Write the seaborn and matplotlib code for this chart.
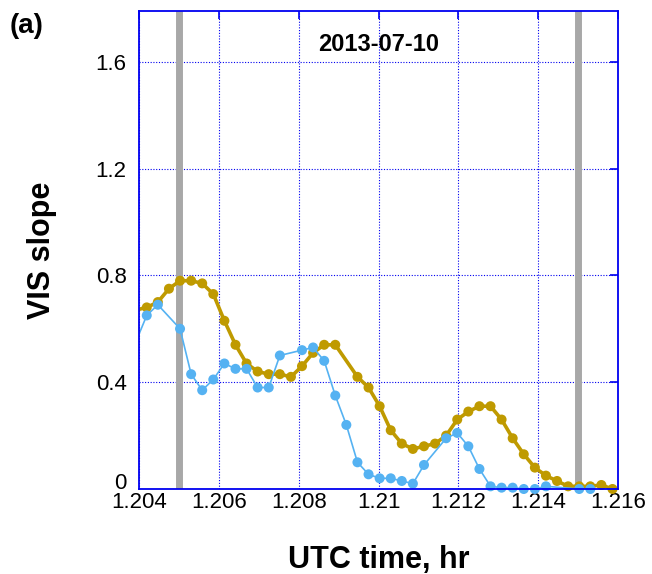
import matplotlib
matplotlib.use("Agg")
import matplotlib.pyplot as plt
import matplotlib.transforms as mtransforms
import seaborn as sns
import pandas as pd

# ---- data (UTC time in hr, VIS slope) ----
gold_time = [1.203917, 1.204194, 1.204472, 1.204750, 1.205028, 1.205306, 1.205583,
             1.205861, 1.206139, 1.206417, 1.206694, 1.206972, 1.207250, 1.207528,
             1.207806, 1.208083, 1.208361, 1.208639, 1.208917, 1.209472, 1.209750,
             1.210028, 1.210306, 1.210583, 1.210861, 1.211139, 1.211417, 1.211694,
             1.211972, 1.212250, 1.212528, 1.212806, 1.213083, 1.213361, 1.213639,
             1.213917, 1.214194, 1.214472, 1.214750, 1.215028, 1.215306, 1.215583,
             1.215861]
gold_slope = [0.67, 0.68, 0.70, 0.75, 0.78, 0.78, 0.77,
              0.73, 0.63, 0.54, 0.47, 0.44, 0.43, 0.43,
              0.42, 0.46, 0.51, 0.54, 0.54, 0.42, 0.38,
              0.31, 0.22, 0.17, 0.15, 0.16, 0.17, 0.20,
              0.26, 0.29, 0.31, 0.31, 0.26, 0.19, 0.13,
              0.08, 0.05, 0.03, 0.01, 0.01, 0.01, 0.015,
              0.0]

blue_time = [1.203917, 1.204194, 1.204472, 1.205028, 1.205306, 1.205583, 1.205861,
             1.206139, 1.206417, 1.206694, 1.206972, 1.207250, 1.207528, 1.208083,
             1.208361, 1.208639, 1.208917, 1.209194, 1.209472, 1.209750, 1.210028,
             1.210306, 1.210583, 1.210861, 1.211139, 1.211694, 1.211972, 1.212250,
             1.212528, 1.212806, 1.213083, 1.213361, 1.213639, 1.213917, 1.214194,
             1.215028, 1.215306]
blue_slope = [0.55, 0.65, 0.69, 0.60, 0.43, 0.37, 0.41,
              0.47, 0.45, 0.45, 0.38, 0.38, 0.50, 0.52,
              0.53, 0.48, 0.35, 0.24, 0.10, 0.055, 0.04,
              0.04, 0.03, 0.02, 0.09, 0.19, 0.21, 0.16,
              0.075, 0.01, 0.005, 0.005, 0.0, 0.0, 0.01,
              0.0, 0.0]

marker_times = [1.205, 1.215]          # gray vertical markers
x_ticks = [1.204, 1.206, 1.208, 1.210, 1.212, 1.214, 1.216]
x_tick_labels = ["1.204", "1.206", "1.208", "1.21", "1.212", "1.214", "1.216"]
y_ticks = [0, 0.4, 0.8, 1.2, 1.6]
y_tick_labels = ["0", "0.4", "0.8", "1.2", "1.6"]
date_label = "2013-07-10"
panel_label = "(a)"

GOLD = "#bf9a00"
BLUE = "#55b2f2"
AXBLUE = "#0000f0"
GRAY = "#a8a8a8"

sns.set_style("white")
plt.rcParams["font.family"] = ["Liberation Sans", "DejaVu Sans"]
plt.rcParams["text.color"] = "black"
plt.rcParams["axes.labelcolor"] = "black"
plt.rcParams["xtick.color"] = "black"
plt.rcParams["ytick.color"] = "black"

fig = plt.figure(figsize=(6.52, 5.74), dpi=100)
ax = fig.add_axes([0.2132, 0.1481, 0.7347, 0.8327])

xmin, xmax = 1.204, 1.216
ax.set_xlim(xmin, xmax)
ax.set_ylim(0, 1.79)

for t in marker_times:
    ax.axvline(t, color=GRAY, lw=5.0, zorder=1)

gold = pd.DataFrame({"t": gold_time, "v": gold_slope})
blue = pd.DataFrame({"t": blue_time, "v": blue_slope})

sns.lineplot(data=gold, x="t", y="v", ax=ax, color=GOLD, lw=2.6,
             estimator=None, sort=False, zorder=3)
sns.scatterplot(data=gold[gold.t >= xmin], x="t", y="v", ax=ax, color=GOLD,
                s=52, edgecolor="none", linewidth=0, zorder=4, clip_on=False)
sns.lineplot(data=blue, x="t", y="v", ax=ax, color=BLUE, lw=1.2,
             estimator=None, sort=False, zorder=5)
sns.scatterplot(data=blue[blue.t >= xmin], x="t", y="v", ax=ax, color=BLUE,
                s=52, edgecolor="none", linewidth=0, zorder=6, clip_on=False)

ax.set_xticks(x_ticks)
ax.set_xticklabels(x_tick_labels)
ax.set_yticks(y_ticks)
ax.set_yticklabels(y_tick_labels)

ax.grid(True, color=AXBLUE, linestyle=(0, (1, 1.5)), lw=0.8, zorder=0)
ax.set_axisbelow(True)
for sp in ax.spines.values():
    sp.set_color(AXBLUE)
    sp.set_linewidth(1.3)
    sp.set_zorder(7)

ax.tick_params(axis="both", direction="in", length=6, width=1.2, color=AXBLUE,
               top=True, right=True, labelsize=16, labelcolor="black")
ax.tick_params(axis="x", pad=2)
ax.tick_params(axis="y", pad=9)

# lift the "0" label slightly, as in the reference
zero_lbl = ax.get_yticklabels()[0]
zero_lbl.set_transform(zero_lbl.get_transform() +
                       mtransforms.ScaledTranslation(0, 8 / 100, fig.dpi_scale_trans))

ax.set_xlabel("UTC time, hr", fontsize=22, fontweight="bold", labelpad=23)
ax.set_ylabel("VIS slope", fontsize=22, fontweight="bold", labelpad=28)

ax.text(0.5, 0.93, date_label, transform=ax.transAxes, ha="center", va="center",
        fontsize=17, fontweight="bold")
fig.text(27 / 652, 1 - 26 / 574, panel_label, ha="center", va="center",
         fontsize=20, fontweight="bold")

fig.savefig("out.png", dpi=100)
